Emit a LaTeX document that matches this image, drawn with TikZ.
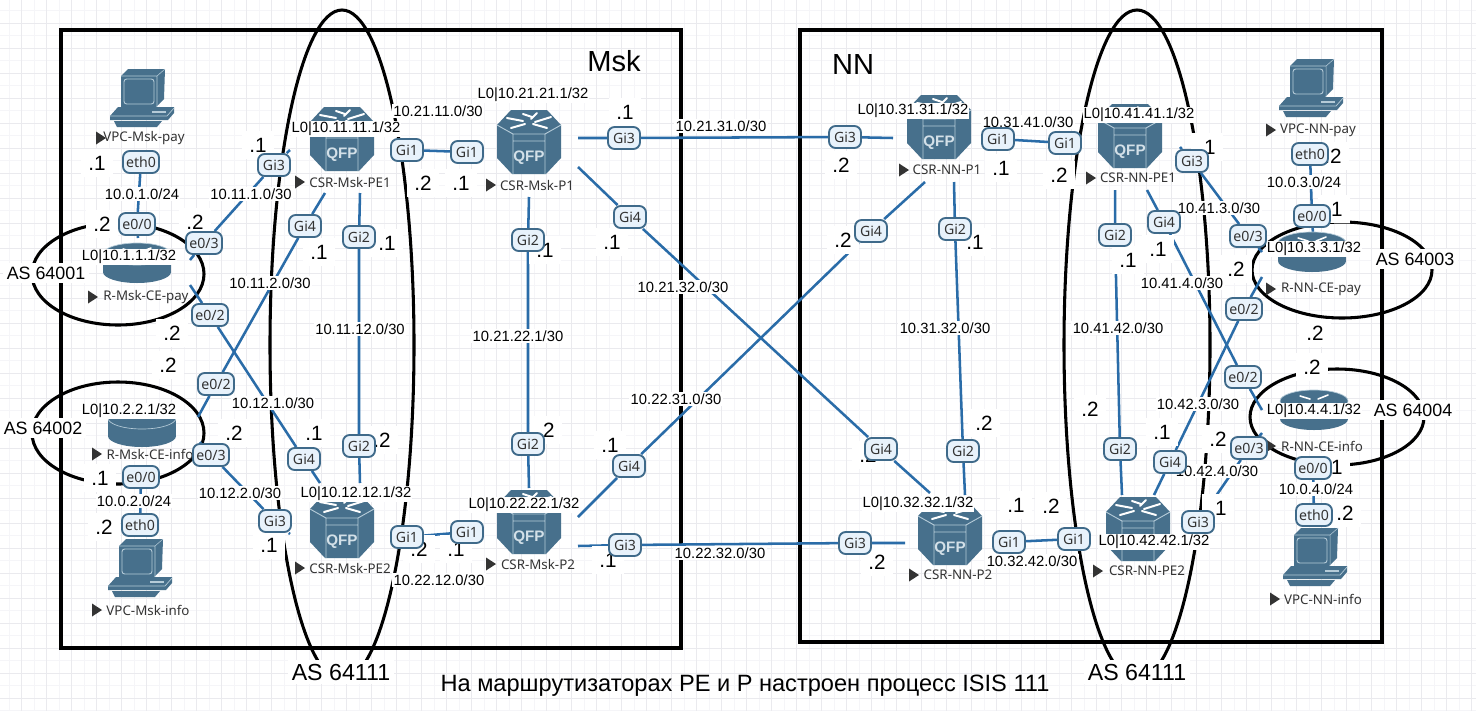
\documentclass[tikz,border=0pt]{standalone}
\usepackage{fontspec}
\setmainfont{Liberation Sans}
\newfontfamily\devfont{Noto Sans}
\usetikzlibrary{calc}
\pgfdeclarelayer{gridlayer}
\pgfdeclarelayer{linklayer}
\pgfsetlayers{gridlayer,linklayer,main}
\definecolor{iconblue}{HTML}{47708C}
\definecolor{iconlight}{HTML}{B5CBD8}
\definecolor{linkblue}{HTML}{2A6CA8}
\definecolor{badgefill}{HTML}{E8F2FB}
\definecolor{badgeline}{HTML}{3F6A8A}
\definecolor{gridmajor}{HTML}{EAEAEE}
\definecolor{gridminor}{HTML}{F5F5F8}
\definecolor{namegrey}{HTML}{333333}
\tikzset{
  boxframe/.style={draw=black,line width=2.7pt},
  asring/.style={draw=black,line width=2.3pt},
  link/.style={draw=linkblue,line width=1.9pt},
  badge/.style={draw=badgeline,fill=badgefill,line width=1.4pt,rounded corners=5pt,
    inner sep=0pt,minimum height=16.5pt,text=namegrey,font=\devfont\bfseries\fontsize{10.6}{11}\selectfont},
  gibadge/.style={badge,minimum width=24pt},
  ebadge/.style={badge,minimum width=27pt},
  netlabel/.style={fill=white,inner sep=1pt,font=\fontsize{11.1}{12}\selectfont},
  looplabel/.style={fill=white,inner sep=0.6pt,font=\fontsize{11.1}{12}\selectfont},
  dotlabel/.style={fill=white,inner sep=0pt,minimum width=24pt,minimum height=21pt,font=\fontsize{15.5}{17}\selectfont},
  aslabel/.style={fill=white,inner sep=2.5pt,font=\fontsize{13.4}{15}\selectfont},
  biglabel/.style={fill=white,inner sep=2.5pt,font=\fontsize{17.4}{19}\selectfont},
  arealabel/.style={inner sep=0pt,font=\fontsize{21.8}{24}\selectfont},
  notelabel/.style={inner sep=1pt,font=\fontsize{17.7}{20}\selectfont},
  devname/.style={inner sep=0pt,text=namegrey,font=\devfont\fontsize{10}{11}\selectfont},
  devanchor/.style={inner sep=0pt,minimum size=1pt},
}
\newcounter{lblc}
\newcommand{\lab}[4]{\stepcounter{lblc}\node[#1] (lab\arabic{lblc}) at (#2,#3) {#4};}
% QFP router body, without the face text
\newcommand{\qfpbody}[3]{%
  \node[devanchor] (#1) at (#2,#3) {};
  \begin{scope}[shift={(#2,#3)}]
    \fill[iconblue] (-18,-32)--(18,-32)--(32,-17)--(32,16)--(17,32)--(-17,32)--(-32,16)--(-32,-17)--cycle;
    \draw[iconlight,line width=0.7pt] (-32,-17)--(-16,-8)--(16,-8)--(32,-17) (-16,-8)--(-16,32) (16,-8)--(16,32) (-16,-1)--(16,-1);
    \draw[white,line width=1.5pt,line cap=round]
      (-22,-24)--(-6,-21) (22,-25)--(6,-20) (-18,-14)--(-4,-18) (18,-14)--(4,-18) (-6,-28)--(3,-25) (8,-29)--(2,-23);
  \end{scope}}
\newcommand{\qfp}[3]{\qfpbody{#1}{#2}{#3}
  \node[inner sep=0pt,text=iconlight!60!white,font=\bfseries\fontsize{11.4}{12}\selectfont] (#1qfp) at (#2,#3+16) {QFP};}
% PC icon
\newcommand{\pcicon}[3]{%
  \node[devanchor] (#1) at (#2,#3) {};
  \begin{scope}[shift={(#2,#3)}]
    \fill[iconblue] (-21,-22)--(-14,-29)--(23,-29)--(22,1)--(14,9)--(-21,9)--cycle;
    \draw[iconlight,line width=0.7pt,rounded corners=2pt] (-18,-19) rectangle (12,6);
    \draw[iconlight,line width=0.4pt] (-21,-22)--(15,-22)--(23,-29) (15,-22)--(15,9);
    \fill[iconblue] (-32,18)--(-24,9)--(32,9)--(32,15)--(26,22)--(-32,22)--cycle;
    \draw[iconlight,line width=0.5pt] (-32,18)--(25,18)--(32,10);
    \fill[iconlight] (10,13) rectangle (24,15);
    \fill[iconblue] (-28,23)--(20,23)--(15,29)--(-25,29)--cycle;
  \end{scope}}
% CE router icon
\newcommand{\ceicon}[3]{%
  \node[devanchor] (#1) at (#2,#3) {};
  \begin{scope}[shift={(#2,#3)}]
    \fill[iconblue] (0,9) ellipse [x radius=34,y radius=11];
    \fill[iconblue] (-34,-9) rectangle (34,9);
    \fill[iconblue] (0,-9) ellipse [x radius=34,y radius=11];
    \draw[iconlight,line width=0.5pt] (0,-9) ellipse [x radius=34,y radius=11];
    \draw[white,line width=1.2pt,line cap=round] (-14,-14)--(-4,-11) (14,-15)--(4,-11);
  \end{scope}}
\newcommand{\tri}[2]{\fill[namegrey] (#1,#2-6.5)--(#1+10,#2)--(#1,#2+6.5)--cycle;}
\begin{document}
\begin{tikzpicture}[x=0.75pt,y=-0.75pt]
\useasboundingbox (0,0) rectangle (1476,711);
\begin{pgfonlayer}{gridlayer}
  \fill[white] (0,0) rectangle (1476,711);
  \foreach \i in {0,...,59} {\draw[gridminor,line width=0.9pt] ({\i*25+9.2},0)--({\i*25+9.2},711);}
  \foreach \i in {0,...,28} {\draw[gridminor,line width=0.9pt] (0,{\i*25+10.8})--(1476,{\i*25+10.8});}
  \foreach \i in {0,...,59} {\draw[gridmajor,line width=0.9pt] ({\i*25+21.7},0)--({\i*25+21.7},711);}
  \foreach \i in {0,...,28} {\draw[gridmajor,line width=0.9pt] (0,{\i*25+23.3})--(1476,{\i*25+23.3});}
  \node[boxframe,minimum width=465pt,minimum height=463.5pt,inner sep=0pt] (boxMsk) at (371,339) {};
  \node[boxframe,minimum width=436.5pt,minimum height=459pt,inner sep=0pt] (boxNN) at (1091,336) {};
  \draw[asring] (342,345) ellipse [x radius=72,y radius=335];
  \draw[asring] (1137,345) ellipse [x radius=73,y radius=335];
  \draw[asring] (118,274) ellipse [x radius=86,y radius=51];
  \draw[asring] (118,433) ellipse [x radius=86,y radius=51];
  \draw[asring] (1342,270) ellipse [x radius=90,y radius=48];
  \draw[asring] (1337,417) ellipse [x radius=87,y radius=48];
\end{pgfonlayer}

% devices
\pcicon{vpcMskPay}{142}{98}
\ceicon{ceMskPay}{137}{263}
\ceicon{ceMskInfo}{142}{427}
\pcicon{vpcMskInfo}{140}{568}
\qfp{pe1Msk}{342}{139}
\qfp{pe2Msk}{342}{526}
\qfp{p1Msk}{529}{142}
\qfp{p2Msk}{529}{522}
\qfp{p1NN}{939}{127}
\qfp{p2NN}{950}{533}
\qfp{pe1NN}{1130}{136}
\qfpbody{pe2NN}{1138}{529}
\pcicon{vpcNNPay}{1311}{88}
\ceicon{ceNNPay}{1312}{252}
\ceicon{ceNNInfo}{1314}{410}
\pcicon{vpcNNInfo}{1315}{557}

% device names
\tri{96}{138}\lab{devname}{144}{138}{VPC-Msk-pay}
\tri{88}{297}\lab{devname}{146}{297}{R-Msk-CE-pay}
\tri{92}{454}\lab{devname}{150}{454}{R-Msk-CE-info}
\tri{92}{610}\lab{devname}{148}{610}{VPC-Msk-info}
\tri{295}{182}\lab{devname}{350}{182}{CSR-Msk-PE1}
\tri{295}{568}\lab{devname}{350}{568}{CSR-Msk-PE2}
\tri{486}{185}\lab{devname}{537}{185}{CSR-Msk-P1}
\tri{486}{564}\lab{devname}{538}{564}{CSR-Msk-P2}
\tri{899}{170}\lab{devname}{947}{170}{CSR-NN-P1}
\tri{909}{575}\lab{devname}{958}{575}{CSR-NN-P2}
\tri{1086}{178}\lab{devname}{1138}{178}{CSR-NN-PE1}
\tri{1093}{571}\lab{devname}{1147}{571}{CSR-NN-PE2}
\tri{1266}{130}\lab{devname}{1318}{130}{VPC-NN-pay}
\tri{1266}{289}\lab{devname}{1321}{289}{R-NN-CE-pay}
\tri{1266}{446}\lab{devname}{1322}{446}{R-NN-CE-info}
\tri{1270}{599}\lab{devname}{1323}{599}{VPC-NN-info}

% loopback labels
\lab{looplabel}{129}{257}{L0|10.1.1.1/32}
\lab{looplabel}{129}{411}{L0|10.2.2.1/32}
\lab{looplabel}{346}{129}{L0|10.11.11.1/32}
\lab{looplabel}{356}{494}{L0|10.12.12.1/32}
\lab{looplabel}{533}{95}{L0|10.21.21.1/32}
\lab{looplabel}{524}{505}{L0|10.22.22.1/32}
\lab{looplabel}{913}{111}{L0|10.31.31.1/32}
\lab{looplabel}{918}{504}{L0|10.32.32.1/32}
\lab{looplabel}{1139}{115}{L0|10.41.41.1/32}
\lab{looplabel}{1154}{542}{L0|10.42.42.1/32}
\lab{looplabel}{1314}{249}{L0|10.3.3.1/32}
\lab{looplabel}{1314}{411}{L0|10.4.4.1/32}

% host addresses
\foreach \x/\y/\t in {97/163/.1,102/224/.2,258/145/.1,195/222/.2,319/252/.1,387/243/.1,172/333/.2,168/365/.2,
  100/478/.1,104/527/.2,234/433/.2,314/433/.1,382/440/.2,269/545/.1,
  423/183/.2,461/183/.1,625/112/.1,612/242/.1,545/250/.1,546/430/.2,610/445/.1,608/560/.1,419/549/.2,456/549/.1,
  841/165/.2,843/240/.2,975/242/.1,1001/168/.1,1059/175/.2,984/423/.2,868/455/.2,877/562/.2,1016/505/.1,1051/506/.2,
  1090/409/.2,1158/249/.1,1128/260/.1,1236/269/.2,1315/333/.2,1312/367/.2,1162/432/.1,1218/439/.2,
  1207/147/.1,1218/508/.1,1333/156/.2,1334/209/.1,1334/467/.1,1345/513/.2}
  {\lab{dotlabel}{\x}{\y}{\t}}

% network labels
\lab{netlabel}{142}{194}{10.0.1.0/24}
\lab{netlabel}{134}{501}{10.0.2.0/24}
\lab{netlabel}{251}{194}{10.11.1.0/30}
\lab{netlabel}{270}{283}{10.11.2.0/30}
\lab{netlabel}{273}{403}{10.12.1.0/30}
\lab{netlabel}{240}{493}{10.12.2.0/30}
\lab{netlabel}{360}{329}{10.11.12.0/30}
\lab{netlabel}{438}{111}{10.21.11.0/30}
\lab{netlabel}{439}{580}{10.22.12.0/30}
\lab{netlabel}{518}{336}{10.21.22.1/30}
\lab{netlabel}{721}{126}{10.21.31.0/30}
\lab{netlabel}{683}{287}{10.21.32.0/30}
\lab{netlabel}{676}{399}{10.22.31.0/30}
\lab{netlabel}{720}{553}{10.22.32.0/30}
\lab{netlabel}{945}{328}{10.31.32.0/30}
\lab{netlabel}{1028}{122}{10.31.41.0/30}
\lab{netlabel}{1032}{561}{10.32.42.0/30}
\lab{netlabel}{1118}{328}{10.41.42.0/30}
\lab{netlabel}{1219}{208}{10.41.3.0/30}
\lab{netlabel}{1182}{283}{10.41.4.0/30}
\lab{netlabel}{1198}{404}{10.42.3.0/30}
\lab{netlabel}{1217}{471}{10.42.4.0/30}
\lab{netlabel}{1304}{182}{10.0.3.0/24}
\lab{netlabel}{1316}{489}{10.0.4.0/24}

% AS and area labels
\lab{aslabel}{46}{273}{AS 64001}
\lab{aslabel}{43}{428}{AS 64002}
\lab{aslabel}{1415}{259}{AS 64003}
\lab{aslabel}{1413}{410}{AS 64004}
\lab{biglabel}{341}{672}{AS 64111}
\lab{biglabel}{1137}{672}{AS 64111}
\lab{arealabel}{614}{61}{Msk}
\lab{arealabel}{853}{64}{NN}
\lab{notelabel}{745}{686}{На маршрутизаторах PE и P настроен процесс ISIS 111}

% interface badges
\foreach \n/\x/\y/\t in {
  a3/274/165/Gi3,a4/305/226/Gi4,a2/359/237/Gi2,a1/407/150/Gi1,
  b3/275/521/Gi3,b4/304/459/Gi4,b2/359/446/Gi2,b1/407/537/Gi1,
  c1/467/152/Gi1,c2/528/240/Gi2,c3/624/138/Gi3,c4/630/217/Gi4,
  d1/467/532/Gi1,d2/528/444/Gi2,d3/625/545/Gi3,d4/629/466/Gi4,
  f3/845/137/Gi3,f4/871/231/Gi4,f2/955/229/Gi2,f1/998/139/Gi1,
  g3/855/543/Gi3,g4/881/449/Gi4,g2/963/451/Gi2,g1/1009/542/Gi1,
  h1/1065/143/Gi1,h2/1115/235/Gi2,h3/1192/161/Gi3,h4/1164/222/Gi4,
  j1/1074/539/Gi1,j2/1120/449/Gi2,j3/1198/522/Gi3,j4/1170/462/Gi4}
  {\node[gibadge] (\n) at (\x,\y) {\t};}
\foreach \n/\x/\y/\t in {
  ma0/137/224/e0\slash 0,ma3/204/243/e0\slash 3,ma2/210/315/e0\slash 2,
  mb0/141/477/e0\slash 0,mb3/211/455/e0\slash 3,mb2/216/384/e0\slash 2,
  na0/1312/216/e0\slash 0,na3/1248/236/e0\slash 3,na2/1244/309/e0\slash 2,
  nb0/1313/468/e0\slash 0,nb3/1249/448/e0\slash 3,nb2/1243/377/e0\slash 2,
  me1/141/162/eth0,me2/140/525/eth0,ne1/1310/154/eth0,ne2/1314/515/eth0}
  {\node[ebadge] (\n) at (\x,\y) {\t};}

% free ends of links
\foreach \n/\x/\y in {
  ma0e/138/238,ma3e/190/260,ma2e/190/285,a3e/290/150,b4e/320/483,mb2e/198/417,a4e/325/193,mb3e/200/442,b3e/290/534,
  a2e/360/193,b2e/360/483,c2e/529/197,d2e/529/488,c3e/578/138,f3e/893/138,c4e/578/167,g4e/930/493,
  d4e/578/517,f4e/925/182,d3e/578/546,g3e/905/543,f2e/954/182,g2e/965/495,h2e/1115/190,j2e/1122/495,
  h3e/1180/147,na3e/1262/252,h4e/1147/190,nb2e/1262/410,j4e/1154/495,na2e/1262/277,nb3e/1262/433,na0e/1313/235}
  {\coordinate (\n) at (\x,\y);}

\begin{pgfonlayer}{linklayer}
  \draw[link] (me1)--(ma0)--(ma0e);
  \draw[link] (ma3e)--(ma3)--(a3)--(a3e);
  \draw[link] (ma2e)--(ma2)--(b4)--(b4e);
  \draw[link] (mb2e)--(mb2)--(a4)--(a4e);
  \draw[link] (mb3e)--(mb3)--(b3)--(b3e);
  \draw[link] (mb0)--(me2);
  \draw[link] (a2e)--(a2)--(b2)--(b2e);
  \draw[link] (a1)--(c1);
  \draw[link] (b1)--(d1);
  \draw[link] (c2e)--(c2)--(d2)--(d2e);
  \draw[link] (c3e)--(c3)--(f3)--(f3e);
  \draw[link] (c4e)--(c4)--(g4)--(g4e);
  \draw[link] (d4e)--(d4)--(f4)--(f4e);
  \draw[link] (d3e)--(d3)--(g3)--(g3e);
  \draw[link] (f1)--(h1);
  \draw[link] (g1)--(j1);
  \draw[link] (f2e)--(f2)--(g2)--(g2e);
  \draw[link] (h2e)--(h2)--(j2)--(j2e);
  \draw[link] (h3e)--(h3)--(na3)--(na3e);
  \draw[link] (h4e)--(h4)--(nb2)--(nb2e);
  \draw[link] (j4e)--(j4)--(na2)--(na2e);
  \draw[link] (j3)--(nb3)--(nb3e);
  \draw[link] (ne1)--(na0)--(na0e);
  \draw[link] (nb0)--(ne2);
\end{pgfonlayer}
\end{tikzpicture}
\end{document}
